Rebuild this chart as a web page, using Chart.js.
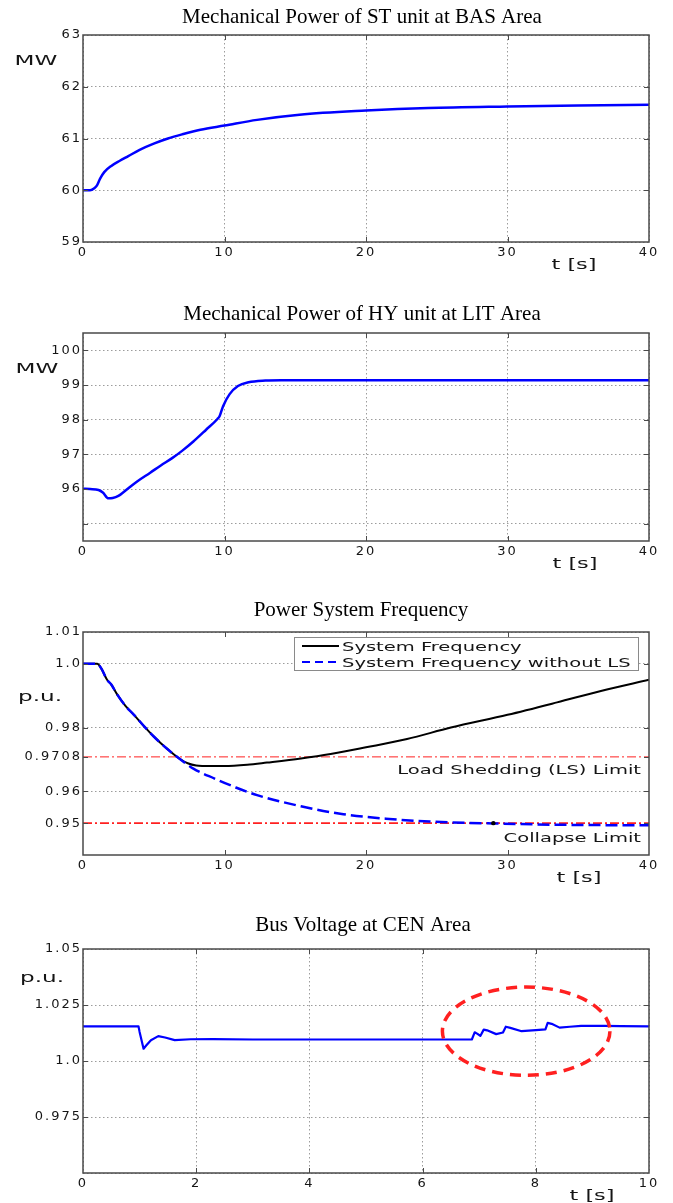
<!DOCTYPE html>
<html>
<head>
<meta charset="utf-8">
<title>Generator trip - system response</title>
<script src="https://cdn.jsdelivr.net/npm/chart.js@4.4.1/dist/chart.umd.min.js"></script>
<style>
    html, body { margin: 0; padding: 0; background: #fff; }
    #page { position: relative; width: 673px; height: 1203px; overflow: hidden; }
    .panel { position: absolute; left: 0; width: 673px; }
    .panel canvas { display: block; }
</style>
</head>
<body>
<div id="page">
    <div class="panel" style="top:0px"><canvas id="stChart" width="673" height="290"></canvas></div>
    <div class="panel" style="top:290px"><canvas id="hyChart" width="673" height="298"></canvas></div>
    <div class="panel" style="top:588px"><canvas id="freqChart" width="673" height="317"></canvas></div>
    <div class="panel" style="top:905px"><canvas id="busChart" width="673" height="298"></canvas></div>
</div>
<script>
/* ------------------------------
   Data
   ------------------------------ */

// ST unit, BAS area (MW)
const stTime  = [0, 0.5, 0.8, 1.0, 1.2, 1.5, 2.0, 2.6, 3.2, 4.0, 5.0, 6.0, 7.0, 8.3, 10, 12.3, 15.3, 20, 24.4, 30, 35, 40];
const stPower = [60.0, 60.0, 60.04, 60.1, 60.22, 60.35, 60.47, 60.57, 60.66, 60.78, 60.9, 61.0, 61.08, 61.17, 61.25, 61.36, 61.46, 61.54, 61.59, 61.62, 61.64, 61.65];

// HY unit, LIT area (MW)
const hyTime  = [0, 0.5, 1.1, 1.4, 1.8, 2.1, 2.5, 2.9, 3.8, 4.75, 5.5, 6.3, 7.0, 7.8, 8.7, 9.5, 9.65, 9.9, 10.35, 10.95, 11.7, 12.9, 14, 20, 30, 40];
const hyPower = [96.01, 96.0, 95.97, 95.9, 95.73, 95.74, 95.8, 95.92, 96.21, 96.47, 96.68, 96.89, 97.1, 97.37, 97.71, 98.02, 98.1, 98.39, 98.73, 98.97, 99.08, 99.13, 99.14, 99.14, 99.14, 99.14];

// system frequency (p.u.)
const freqTime   = [0, 1.0, 1.3, 1.7, 2.0, 2.4, 3.0, 3.6, 4.3, 5.0, 5.9, 6.8, 7.4, 8.0, 9.0, 10.0, 11.6, 13.0, 15.4, 17.5, 20, 22.9, 26, 30, 33.5, 36.6, 40];
const freqWithLS = [1.0, 1.0, 0.9985, 0.995, 0.9935, 0.9905, 0.9868, 0.984, 0.9805, 0.9772, 0.9735, 0.9703, 0.9688, 0.9681, 0.9679, 0.9679, 0.9683, 0.969, 0.9703, 0.9717, 0.9738, 0.9764, 0.98, 0.984, 0.9879, 0.9915, 0.995];
const noLSTime   = [0, 1.0, 1.3, 1.7, 2.0, 2.4, 3.0, 3.6, 4.3, 5.0, 5.9, 6.8, 7.8, 9.3, 10.8, 12.3, 15.4, 18.4, 21.4, 24.5, 29, 33.5, 40];
const freqNoLS   = [1.0, 1.0, 0.9985, 0.995, 0.9935, 0.9905, 0.9868, 0.984, 0.9805, 0.9772, 0.9735, 0.9703, 0.9671, 0.964, 0.9612, 0.9588, 0.9553, 0.9528, 0.9514, 0.9505, 0.9499, 0.9495, 0.9493];
const lsLimit = 0.9708;
const collapseLimit = 0.95;
const limitSpan = [0, 40];
const collapseHitTime = [29];
const collapseHitFreq = [0.95];

// bus voltage, CEN area (p.u.)
const busTime    = [0, 0.98, 1.0, 1.07, 1.12, 1.2, 1.33, 1.45, 1.62, 1.9, 2.3, 3.0, 4.0, 6.87, 6.92, 6.97, 7.02, 7.08, 7.14, 7.3, 7.42, 7.47, 7.55, 7.75, 8.0, 8.17, 8.21, 8.28, 8.42, 8.6, 8.8, 9.2, 9.5, 10];
const busVoltage = [1.0155, 1.0155, 1.013, 1.0055, 1.007, 1.0093, 1.0111, 1.0105, 1.0093, 1.0097, 1.0098, 1.0096, 1.0096, 1.0096, 1.0128, 1.0121, 1.0112, 1.014, 1.0137, 1.012, 1.0127, 1.0153, 1.0148, 1.0133, 1.0138, 1.0141, 1.017, 1.0166, 1.0149, 1.0153, 1.0157, 1.0157, 1.0156, 1.0155];
const ringCenter = [7.83, 1.0133];   // t, p.u.
const ringRadius = [1.48, 0.0197];

// axis ticks
const longTimeTicks  = [0, 10, 20, 30, 40];
const shortTimeTicks = [0, 2, 4, 6, 8, 10];
const stTicks   = [59, 60, 61, 62, 63];
const hyTicks   = [95, 96, 97, 98, 99, 100];
const hyLabels  = ['', '96', '97', '98', '99', '100'];
const freqTicks  = [0.95, 0.96, 0.9708, 0.98, 1.0, 1.01];
const freqLabels = ['0.95', '0.96', '0.9708', '0.98', '1.0', '1.01'];
const busTicks  = [0.95, 0.975, 1.0, 1.025, 1.05];
const busLabels = ['', '0.975', '1.0', '1.025', '1.05'];

/* ------------------------------
   Styles
   ------------------------------ */
const INK = '#151515';
const GRID = '#9c9c9c';
const FRAME = '#4a4a4a';
const BLUE = '#0000ff';
const RED = '#ff2020';
const DOTS = [1.5, 2.5];
const TICK_FONT = { family: '"DejaVu Sans", sans-serif', size: 13 };

function timeSeries(ts, vs) {
    return ts.map((t, i) => ({ x: t, y: vs[i] }));
}

// horizontally stretched sans text, the plots use a very wide face
function wideText(ctx, text, x, y, size, stretch, align) {
    ctx.save();
    ctx.letterSpacing = '0px';
    ctx.font = size + 'px "DejaVu Sans", sans-serif';
    const w = ctx.measureText(text).width * stretch;
    let left = x;
    if (align === 'center') left = x - w / 2;
    else if (align === 'right') left = x - w;
    ctx.translate(left, y);
    ctx.scale(stretch, 1);
    ctx.textAlign = 'left';
    ctx.textBaseline = 'alphabetic';
    ctx.fillStyle = INK;
    ctx.fillText(text, 0, 0);
    ctx.restore();
}

// ------------------------------
// Frame plugin: box, inward ticks, titles, labels, legend
// ------------------------------
const framePlugin = {
    id: 'frame',
    beforeDraw(chart) {
        chart.ctx.letterSpacing = '2px';
    },
    afterDatasetsDraw(chart, args, opts) {
        if (!opts.ring) return;
        const { x, y } = chart.scales;
        const cx = x.getPixelForValue(opts.ring.center[0]);
        const cy = y.getPixelForValue(opts.ring.center[1]);
        const rx = x.getPixelForValue(opts.ring.center[0] + opts.ring.radius[0]) - cx;
        const ry = cy - y.getPixelForValue(opts.ring.center[1] + opts.ring.radius[1]);
        const ctx = chart.ctx;
        ctx.save();
        ctx.strokeStyle = RED;
        ctx.lineWidth = 3.5;
        ctx.setLineDash([11, 7]);
        ctx.beginPath();
        ctx.ellipse(cx, cy, rx, ry, 0, 0, Math.PI * 2);
        ctx.stroke();
        ctx.restore();
    },
    afterDraw(chart, args, opts) {
        const ctx = chart.ctx;
        const area = chart.chartArea;
        const { x, y } = chart.scales;
        ctx.letterSpacing = '0px';

        ctx.save();
        ctx.strokeStyle = FRAME;
        ctx.lineWidth = 1;
        ctx.beginPath();
        x.ticks.forEach(t => {
            if (t.value <= x.min || t.value >= x.max) return;
            const px = Math.round(x.getPixelForValue(t.value)) + 0.5;
            ctx.moveTo(px, area.bottom); ctx.lineTo(px, area.bottom - 5);
            ctx.moveTo(px, area.top); ctx.lineTo(px, area.top + 5);
        });
        y.ticks.forEach(t => {
            if (t.value <= y.min || t.value >= y.max) return;
            const py = Math.round(y.getPixelForValue(t.value)) + 0.5;
            ctx.moveTo(area.left, py); ctx.lineTo(area.left + 5, py);
            ctx.moveTo(area.right, py); ctx.lineTo(area.right - 5, py);
        });
        ctx.stroke();
        ctx.lineWidth = 1.5;
        ctx.strokeRect(area.left, area.top, area.right - area.left, area.bottom - area.top);
        ctx.restore();

        // title
        ctx.save();
        ctx.font = '21px "Liberation Serif", "Times New Roman", serif';
        ctx.fillStyle = '#000';
        ctx.textAlign = 'center';
        ctx.textBaseline = 'alphabetic';
        ctx.fillText(opts.title, opts.titleX, area.top - opts.titleGap);
        ctx.restore();

        wideText(ctx, opts.unit, opts.unitX, area.top + opts.unitDY, 14, 1.65, 'center');
        wideText(ctx, 't [s]', opts.timeX, area.bottom + 27, 14, 1.6, 'center');

        (opts.limits || []).forEach(l => {
            wideText(ctx, l.text, area.right - 8, y.getPixelForValue(l.value) + l.dy, 13, 1.5, 'right');
        });

        if (opts.legend) {
            const lg = opts.legend;
            const bx = area.right - lg.right - lg.width;
            const by = area.top + lg.top;
            ctx.save();
            ctx.fillStyle = '#fff';
            ctx.fillRect(bx, by, lg.width, lg.height);
            ctx.strokeStyle = '#8a8a8a';
            ctx.lineWidth = 1;
            ctx.strokeRect(bx + 0.5, by + 0.5, lg.width, lg.height);
            lg.datasets.forEach((di, row) => {
                const ds = chart.data.datasets[di];
                const ry = by + 9 + row * 16;
                ctx.strokeStyle = ds.borderColor;
                ctx.lineWidth = 2;
                ctx.setLineDash(ds.borderDash ? [8, 5] : []);
                ctx.beginPath();
                ctx.moveTo(bx + 8, ry);
                ctx.lineTo(bx + 45, ry);
                ctx.stroke();
                ctx.setLineDash([]);
                wideText(ctx, ds.label, bx + 48, ry + 4.7, 13, 1.5, 'left');
            });
            ctx.restore();
        }
    }
};

// ------------------------------
// Shared options
// ------------------------------
function panelOptions(p) {
    const plain = p.yPlain || [];
    return {
        responsive: false,
        animation: false,
        events: [],
        layout: { padding: { top: p.padTop, right: 24, bottom: 0, left: 0 } },
        plugins: {
            legend: { display: false },
            tooltip: { enabled: false },
            frame: p.frame
        },
        scales: {
            x: {
                type: 'linear',
                min: p.xTicks[0],
                max: p.xTicks[p.xTicks.length - 1],
                afterBuildTicks: s => { s.ticks = p.xTicks.map(v => ({ value: v })); },
                afterFit: s => { s.height = p.xAxisHeight; },
                grid: { display: p.xGrid !== false, color: GRID, lineWidth: 1, drawTicks: false },
                border: { display: false, dash: DOTS },
                ticks: { padding: 3, color: INK, font: TICK_FONT, maxRotation: 0, autoSkip: false }
            },
            y: {
                type: 'linear',
                min: p.yMin,
                max: p.yMax,
                afterBuildTicks: s => { s.ticks = p.yTicks.map(v => ({ value: v })); },
                afterFit: s => { s.width = 83; },
                grid: {
                    color: c => (c.tick && plain.includes(c.tick.value)) ? 'rgba(0,0,0,0)' : GRID,
                    lineWidth: 1,
                    drawTicks: false
                },
                border: { display: false, dash: DOTS },
                ticks: {
                    padding: 1, color: INK, font: TICK_FONT, autoSkip: false,
                    callback: (v, i) => p.yLabels ? p.yLabels[i] : String(v)
                }
            }
        }
    };
}

// ------------------------------
// Charts
// ------------------------------
new Chart(document.getElementById('stChart'), {
    type: 'line',
    data: {
        datasets: [{
            label: 'Mechanical Power',
            data: timeSeries(stTime, stPower),
            borderColor: BLUE, borderWidth: 2.5, pointRadius: 0,
            cubicInterpolationMode: 'monotone'
        }]
    },
    options: panelOptions({
        padTop: 35, xAxisHeight: 48,
        xTicks: longTimeTicks, yTicks: stTicks, yMin: 59, yMax: 63,
        frame: { title: 'Mechanical Power of ST unit at BAS Area', titleX: 362, titleGap: 12,
                 unit: 'MW', unitX: 36, unitDY: 30, timeX: 574 }
    }),
    plugins: [framePlugin]
});

new Chart(document.getElementById('hyChart'), {
    type: 'line',
    data: {
        datasets: [{
            label: 'Mechanical Power',
            data: timeSeries(hyTime, hyPower),
            borderColor: BLUE, borderWidth: 2.5, pointRadius: 0,
            cubicInterpolationMode: 'monotone'
        }]
    },
    options: panelOptions({
        padTop: 43, xAxisHeight: 47,
        xTicks: longTimeTicks, yTicks: hyTicks, yLabels: hyLabels, yMin: 94.5, yMax: 100.5,
        frame: { title: 'Mechanical Power of HY unit at LIT Area', titleX: 362, titleGap: 13,
                 unit: 'MW', unitX: 37, unitDY: 40, timeX: 575 }
    }),
    plugins: [framePlugin]
});

new Chart(document.getElementById('freqChart'), {
    type: 'line',
    data: {
        datasets: [{
            label: 'System Frequency',
            data: timeSeries(freqTime, freqWithLS),
            borderColor: '#000', borderWidth: 2, pointRadius: 0,
            cubicInterpolationMode: 'monotone', order: 1
        }, {
            label: 'System Frequency without LS',
            data: timeSeries(noLSTime, freqNoLS),
            borderColor: BLUE, borderWidth: 2.5, borderDash: [12, 5], pointRadius: 0,
            cubicInterpolationMode: 'monotone', order: 0
        }, {
            label: 'LS limit',
            data: timeSeries(limitSpan, limitSpan.map(() => lsLimit)),
            borderColor: RED, borderWidth: 1, borderDash: [9, 3, 2, 3], pointRadius: 0, order: 3
        }, {
            label: 'Collapse limit',
            data: timeSeries(limitSpan, limitSpan.map(() => collapseLimit)),
            borderColor: RED, borderWidth: 1.6, borderDash: [9, 3, 2, 3], pointRadius: 0, order: 3
        }, {
            label: 'Collapse point',
            data: timeSeries(collapseHitTime, collapseHitFreq),
            showLine: false, pointRadius: 2.2, pointBackgroundColor: '#000', pointBorderWidth: 0, order: -1
        }]
    },
    options: panelOptions({
        padTop: 44, xAxisHeight: 50, xGrid: false,
        xTicks: longTimeTicks, yTicks: freqTicks, yLabels: freqLabels, yMin: 0.94, yMax: 1.01,
        yPlain: [lsLimit, collapseLimit],
        frame: {
            title: 'Power System Frequency', titleX: 361, titleGap: 16,
            unit: 'p.u.', unitX: 40, unitDY: 69, timeX: 579,
            limits: [
                { value: lsLimit, text: 'Load Shedding (LS) Limit', dy: 17.5 },
                { value: collapseLimit, text: 'Collapse Limit', dy: 18.5 }
            ],
            legend: { datasets: [0, 1], right: 11, top: 5, width: 344, height: 33 }
        }
    }),
    plugins: [framePlugin]
});

new Chart(document.getElementById('busChart'), {
    type: 'line',
    data: {
        datasets: [{
            label: 'Bus Voltage',
            data: timeSeries(busTime, busVoltage),
            borderColor: BLUE, borderWidth: 2.2, pointRadius: 0,
            tension: 0, borderJoinStyle: 'round'
        }]
    },
    options: panelOptions({
        padTop: 44, xAxisHeight: 30,
        xTicks: shortTimeTicks, yTicks: busTicks, yLabels: busLabels, yMin: 0.95, yMax: 1.05,
        frame: {
            title: 'Bus Voltage at CEN Area', titleX: 363, titleGap: 18,
            unit: 'p.u.', unitX: 42, unitDY: 33, timeX: 592,
            ring: { center: ringCenter, radius: ringRadius }
        }
    }),
    plugins: [framePlugin]
});
</script>
</body>
</html>
